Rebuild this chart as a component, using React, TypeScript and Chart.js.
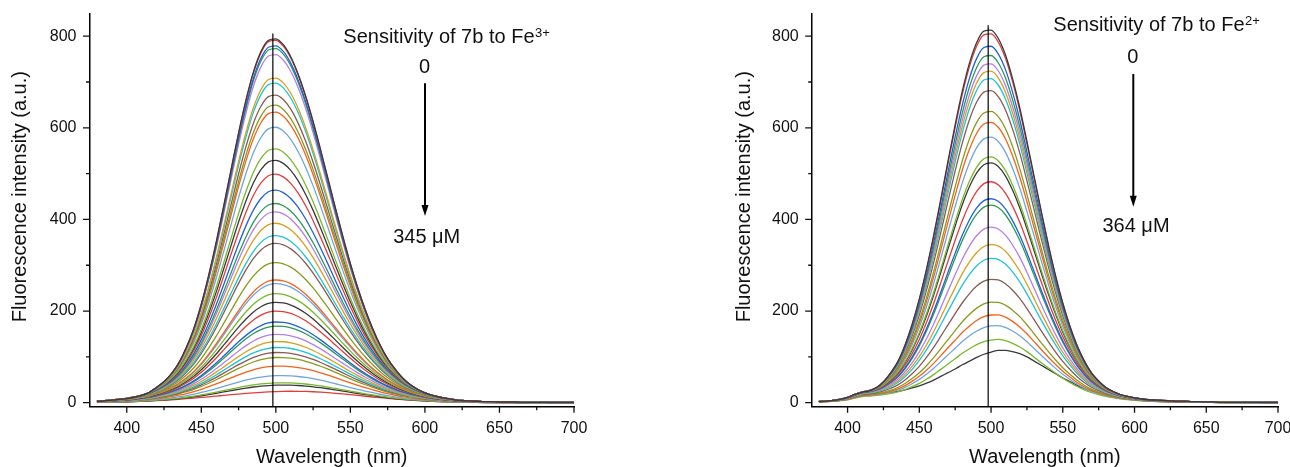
import React, { useEffect, useRef } from "react";
import { Chart, registerables } from "chart.js";

Chart.register(...registerables);

const FONT = "'Liberation Sans', Arial, Helvetica, sans-serif";
const INK = "#111111";

// ---------- data ----------
const wavelengths = [
  380, 385, 390, 395, 400, 405, 410, 415, 420, 425, 430, 435, 440, 445, 450, 455,
  460, 465, 470, 475, 480, 485, 490, 495, 500, 505, 510, 515, 520, 525, 530, 535,
  540, 545, 550, 555, 560, 565, 570, 575, 580, 585, 590, 595, 600, 605, 610, 615,
  620, 625, 630, 635, 640, 645, 650, 655, 660, 665, 670, 675, 680, 685, 690, 695, 700,
];

// normalised spectral shape of the strongest (0 µM) curve, Fe3+ panel
const profileFe3High = [
  0.004, 0.005, 0.007, 0.009, 0.011, 0.015, 0.02, 0.028, 0.042, 0.058, 0.08, 0.11,
  0.152, 0.204, 0.271, 0.351, 0.441, 0.54, 0.641, 0.741, 0.832, 0.909, 0.964, 0.995,
  0.999, 0.983, 0.95, 0.902, 0.842, 0.772, 0.695, 0.615, 0.534, 0.456, 0.382, 0.315,
  0.255, 0.203, 0.158, 0.121, 0.092, 0.068, 0.05, 0.037, 0.027, 0.02, 0.015, 0.011,
  0.008, 0.006, 0.005, 0.004, 0.003, 0.003, 0.002, 0.002, 0.002, 0.001, 0.001, 0.001,
  0.001, 0.001, 0.001, 0.001, 0.001,
];
// normalised shape of the weakest (345 µM) curve, Fe3+ panel
const profileFe3Low = [
  0.029, 0.038, 0.049, 0.063, 0.079, 0.098, 0.122, 0.149, 0.18, 0.216, 0.256, 0.301,
  0.35, 0.403, 0.459, 0.518, 0.579, 0.639, 0.7, 0.758, 0.813, 0.863, 0.907, 0.943,
  0.971, 0.99, 0.999, 0.998, 0.984, 0.959, 0.923, 0.878, 0.824, 0.764, 0.7, 0.633,
  0.566, 0.5, 0.436, 0.375, 0.319, 0.268, 0.223, 0.183, 0.148, 0.118, 0.094, 0.073,
  0.056, 0.043, 0.032, 0.024, 0.018, 0.013, 0.01, 0.007, 0.005, 0.004, 0.003, 0.002,
  0.002, 0.001, 0.001, 0.001, 0.001,
];
// normalised shape of the strongest (0 µM) curve, Fe2+ panel
const profileFe2High = [
  0.003, 0.004, 0.006, 0.009, 0.014, 0.022, 0.028, 0.032, 0.04, 0.056, 0.08, 0.11,
  0.154, 0.21, 0.278, 0.358, 0.448, 0.546, 0.647, 0.745, 0.835, 0.91, 0.965, 0.995,
  0.998, 0.976, 0.932, 0.868, 0.79, 0.7, 0.607, 0.513, 0.423, 0.34, 0.267, 0.205,
  0.153, 0.112, 0.08, 0.058, 0.041, 0.03, 0.022, 0.017, 0.013, 0.01, 0.008, 0.007,
  0.006, 0.005, 0.004, 0.004, 0.003, 0.003, 0.002, 0.002, 0.001, 0.001, 0.001, 0.001,
  0.001, 0.001, 0.001, 0.001, 0.001,
];
// normalised shape of the weakest (364 µM) curve, Fe2+ panel
const profileFe2Low = [
  0.02, 0.025, 0.035, 0.05, 0.07, 0.11, 0.145, 0.16, 0.17, 0.18, 0.195, 0.215,
  0.245, 0.28, 0.32, 0.37, 0.43, 0.5, 0.57, 0.64, 0.72, 0.79, 0.86, 0.92,
  0.96, 0.995, 0.995, 0.97, 0.93, 0.87, 0.79, 0.71, 0.63, 0.55, 0.47, 0.4,
  0.33, 0.27, 0.22, 0.18, 0.145, 0.115, 0.09, 0.072, 0.057, 0.045, 0.036, 0.028,
  0.022, 0.018, 0.014, 0.011, 0.009, 0.007, 0.006, 0.005, 0.004, 0.003, 0.003, 0.002,
  0.002, 0.002, 0.001, 0.001, 0.001,
];

// peak intensities of each titration step (top to bottom)
const peaksFe3 = [
  795, 792, 780, 774, 761, 710, 699, 673, 651, 636, 603, 556, 531, 501, 466, 437, 419,
  394, 367, 350, 308, 270, 262, 240, 221, 202, 178, 169, 151, 135, 122, 111, 100, 81,
  60, 44, 39, 25,
];
const peaksFe2 = [
  815, 807, 780, 760, 742, 726, 710, 684, 639, 615, 583, 540, 527, 486, 449, 435, 387,
  349, 319, 273, 223, 195, 171, 140, 115,
];

const markerWavelength = 498;
const markerTopFe3 = 806;
const markerTopFe2 = 824;

const xMajorTicks = [400, 450, 500, 550, 600, 650, 700];
const xMinorTicks = [425, 475, 525, 575, 625, 675];
const yMajorTicks = [0, 200, 400, 600, 800];
const yMinorTicks = [100, 300, 500, 700];

const X_MIN = 375;
const X_MAX = 700;
const Y_MIN = -8.7;
const Y_MAX = 850;

const palette = [
  "#3a3a3a", "#e23c3c", "#1f62d6", "#2e9a5a", "#b57fe6", "#d6a020",
  "#1ec4d6", "#8b5a54", "#8a9a1e", "#f4621c", "#6fa6de", "#78b82a",
];

const blendExponent = 0.25;

function buildDatasets(peaks: number[], hi: number[], lo: number[], markerTop: number) {
  const maxP = Math.max(...peaks);
  const minP = Math.min(...peaks);
  const curves = peaks.map((p, i) => {
    const t = (p - minP) / (maxP - minP);
    const w = Math.pow(t, blendExponent);
    return {
      label: "c" + i,
      data: wavelengths.map((x, k) => ({ x, y: p * (w * hi[k] + (1 - w) * lo[k]) })),
      borderColor: palette[i % palette.length],
      borderWidth: 1.3,
      pointRadius: 0,
      fill: false,
      cubicInterpolationMode: "monotone" as const,
    };
  });
  const marker = {
    label: "marker",
    data: [
      { x: markerWavelength, y: Y_MIN },
      { x: markerWavelength, y: markerTop },
    ],
    borderColor: "#000000",
    borderWidth: 1.2,
    pointRadius: 0,
    fill: false,
  };
  return [marker, ...curves];
}

type PanelCfg = {
  width: number;
  yAxisWidth: number;
  padRight: number;
  yTitleX: number;
  yTitleY: number;
  titleX: number;
  titleBase: number;
  sup: string;
  zeroX: number;
  zeroBase: number;
  arrowX: number;
  arrowTop: number;
  arrowTip: number;
  endLabel: string;
  endX: number;
  endBase: number;
};

function makeOverlay(cfg: PanelCfg) {
  return {
    id: "overlay",
    afterDraw(chart: any) {
      const { ctx, chartArea } = chart;
      const xs = chart.scales.x;
      const ys = chart.scales.y;
      ctx.save();
      // tick marks (outward)
      ctx.strokeStyle = INK;
      ctx.lineWidth = 1.3;
      ctx.beginPath();
      const b = chartArea.bottom;
      const l = chartArea.left;
      xMajorTicks.forEach((v) => {
        const px = xs.getPixelForValue(v);
        ctx.moveTo(px, b);
        ctx.lineTo(px, b + 6);
      });
      xMinorTicks.forEach((v) => {
        const px = xs.getPixelForValue(v);
        ctx.moveTo(px, b);
        ctx.lineTo(px, b + 3.5);
      });
      yMajorTicks.forEach((v) => {
        const py = ys.getPixelForValue(v);
        ctx.moveTo(l, py);
        ctx.lineTo(l - 6.5, py);
      });
      yMinorTicks.forEach((v) => {
        const py = ys.getPixelForValue(v);
        ctx.moveTo(l, py);
        ctx.lineTo(l - 3.5, py);
      });
      ctx.stroke();

      ctx.fillStyle = INK;
      // y axis title
      ctx.save();
      ctx.font = `20px ${FONT}`;
      ctx.translate(cfg.yTitleX, cfg.yTitleY);
      ctx.rotate(-Math.PI / 2);
      ctx.textAlign = "center";
      ctx.textBaseline = "middle";
      ctx.fillText("Fluorescence intensity (a.u.)", 0, 0);
      ctx.restore();

      // annotation title
      ctx.textBaseline = "alphabetic";
      ctx.textAlign = "left";
      ctx.font = `20px ${FONT}`;
      const main = "Sensitivity of 7b to Fe";
      ctx.fillText(main, cfg.titleX, cfg.titleBase);
      const w = ctx.measureText(main).width;
      ctx.font = `13px ${FONT}`;
      ctx.fillText(cfg.sup, cfg.titleX + w + 0.5, cfg.titleBase - 6);

      ctx.font = `20px ${FONT}`;
      ctx.textAlign = "center";
      ctx.fillText("0", cfg.zeroX, cfg.zeroBase);
      ctx.fillText(cfg.endLabel, cfg.endX, cfg.endBase);

      // arrow
      ctx.strokeStyle = "#000";
      ctx.lineWidth = 2;
      ctx.beginPath();
      ctx.moveTo(cfg.arrowX, cfg.arrowTop);
      ctx.lineTo(cfg.arrowX, cfg.arrowTip - 8);
      ctx.stroke();
      ctx.fillStyle = "#000";
      ctx.beginPath();
      ctx.moveTo(cfg.arrowX - 3.5, cfg.arrowTip - 11);
      ctx.lineTo(cfg.arrowX + 3.5, cfg.arrowTip - 11);
      ctx.lineTo(cfg.arrowX, cfg.arrowTip);
      ctx.closePath();
      ctx.fill();
      ctx.restore();
    },
  };
}

function Panel({
  cfg,
  peaks,
  hi,
  lo,
  markerTop,
  left,
}: {
  cfg: PanelCfg;
  peaks: number[];
  hi: number[];
  lo: number[];
  markerTop: number;
  left: number;
}) {
  const ref = useRef<HTMLCanvasElement | null>(null);
  useEffect(() => {
    if (!ref.current) return;
    const tickFont = { family: FONT, size: 16 };
    const chart = new Chart(ref.current, {
      type: "line",
      data: { datasets: buildDatasets(peaks, hi, lo, markerTop) as any },
      options: {
        responsive: false,
        animation: false,
        devicePixelRatio: 1,
        parsing: false as any,
        layout: { padding: { left: 0, right: cfg.padRight, top: 13.3, bottom: 0 } },
        plugins: { legend: { display: false }, tooltip: { enabled: false }, title: { display: false } },
        scales: {
          x: {
            type: "linear",
            min: X_MIN,
            max: X_MAX,
            afterFit(s: any) {
              s.height = 60.3;
              s.paddingLeft = 0;
              s.paddingRight = 0;
            },
            grid: { display: false, drawTicks: false },
            border: { display: true, color: "#000", width: 1.5 },
            ticks: {
              stepSize: 50,
              includeBounds: false,
              autoSkip: false,
              maxRotation: 0,
              padding: 12,
              color: INK,
              font: tickFont,
            },
            title: {
              display: true,
              text: "Wavelength (nm)",
              color: INK,
              font: { family: FONT, size: 20, lineHeight: 1 },
              padding: { top: 0, bottom: 0 },
            },
          },
          y: {
            type: "linear",
            min: Y_MIN,
            max: Y_MAX,
            afterFit(s: any) {
              s.width = cfg.yAxisWidth;
              s.paddingTop = 0;
              s.paddingBottom = 0;
            },
            grid: { display: false, drawTicks: false },
            border: { display: true, color: "#000", width: 1.5 },
            ticks: {
              stepSize: 200,
              includeBounds: false,
              padding: 13,
              color: INK,
              font: tickFont,
            },
          },
        },
      },
      plugins: [makeOverlay(cfg)],
    });
    return () => chart.destroy();
  }, []);
  return (
    <canvas
      ref={ref}
      width={cfg.width}
      height={467}
      style={{ position: "absolute", left, top: 0, width: cfg.width, height: 467 }}
    />
  );
}

const leftCfg: PanelCfg = {
  width: 640,
  yAxisWidth: 89.5,
  padRight: 66,
  yTitleX: 20,
  yTitleY: 196.7,
  titleX: 343.3,
  titleBase: 42.7,
  sup: "3+",
  zeroX: 424.5,
  zeroBase: 72.7,
  arrowX: 425,
  arrowTop: 83.3,
  arrowTip: 216,
  endLabel: "345 \u03bcM",
  endX: 426.7,
  endBase: 243.3,
};

const rightCfg: PanelCfg = {
  width: 650,
  yAxisWidth: 171.7,
  padRight: 12,
  yTitleX: 104.6,
  yTitleY: 196.7,
  titleX: 413.3,
  titleBase: 31,
  sup: "2+",
  zeroX: 492.7,
  zeroBase: 63.3,
  arrowX: 493.3,
  arrowTop: 74,
  arrowTip: 206.7,
  endLabel: "364 \u03bcM",
  endX: 496,
  endBase: 231.7,
};

export default function App() {
  return (
    <div
      style={{
        position: "fixed",
        left: 0,
        top: 0,
        width: 1290,
        height: 467,
        background: "#ffffff",
        overflow: "hidden",
      }}
    >
      <Panel cfg={leftCfg} peaks={peaksFe3} hi={profileFe3High} lo={profileFe3Low} markerTop={markerTopFe3} left={0} />
      <Panel cfg={rightCfg} peaks={peaksFe2} hi={profileFe2High} lo={profileFe2Low} markerTop={markerTopFe2} left={640} />
    </div>
  );
}
